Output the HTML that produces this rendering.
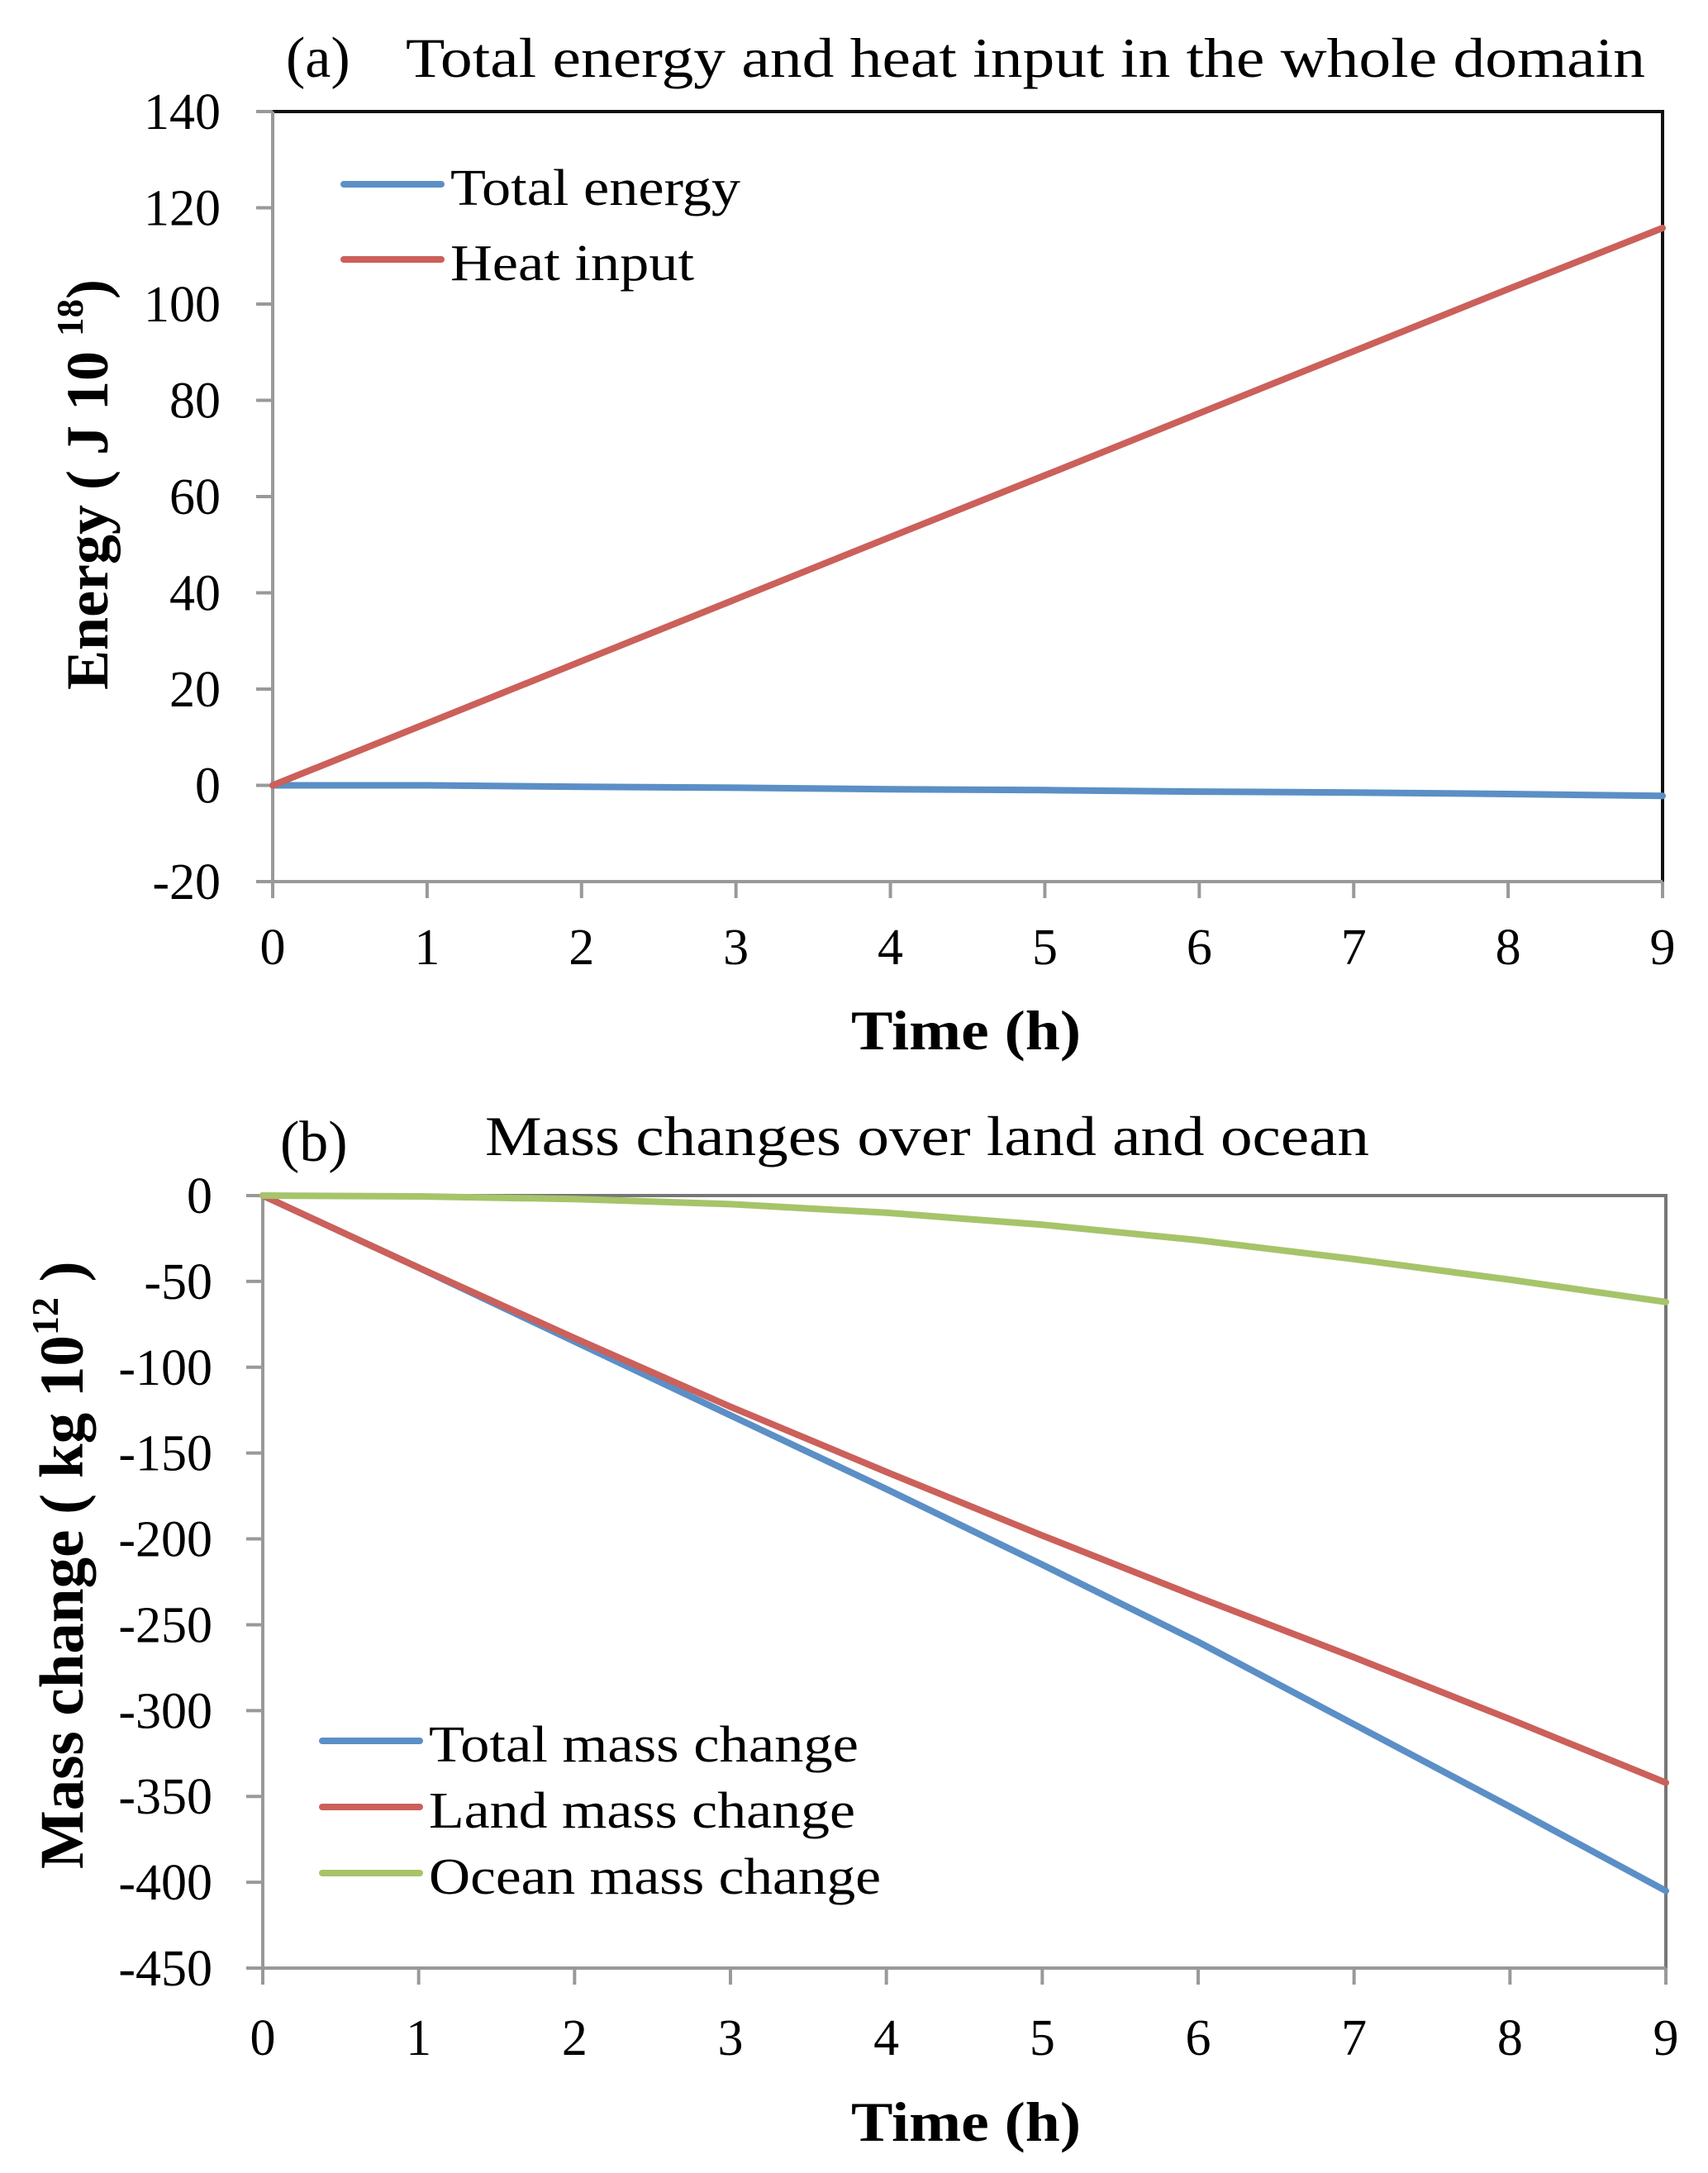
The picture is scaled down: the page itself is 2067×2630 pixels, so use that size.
<!DOCTYPE html>
<html><head><meta charset="utf-8"><style>
html,body{margin:0;padding:0;background:#fff;}
svg{display:block;font-family:"Liberation Serif",serif;}
</style></head><body>
<svg id="fig" width="2067" height="2630" viewBox="0 0 2067 2630" xmlns="http://www.w3.org/2000/svg">
<g id="chartA"></g>
<g id="chartB"></g>
</svg>
<script>
const hours = [0,1,2,3,4,5,6,7,8,9];
const totalEnergy = [0,0,-0.3,-0.5,-0.8,-1.0,-1.3,-1.5,-1.8,-2.2];
const heatInput = [0,12.9,25.8,38.7,51.6,64.4,77.3,90.2,103.1,115.8];
const energyTicks = [-20,0,20,40,60,80,100,120,140];
const totalMass = [0,-42,-85,-128,-171,-215,-260,-308,-356,-405];
const landMass = [0,-42,-83,-123,-161,-198,-234,-269,-305,-342];
const oceanMass = [0,-0.5,-2,-5,-10,-17,-26,-37,-49,-62];
const massTicks = [-450,-400,-350,-300,-250,-200,-150,-100,-50,0];
const xTicks = [0,1,2,3,4,5,6,7,8,9];

const NS="http://www.w3.org/2000/svg";
function mk(parent,tag,attrs,text){
  const e=document.createElementNS(NS,tag);
  for(const k in attrs) e.setAttribute(k,attrs[k]);
  if(text!==undefined) e.textContent=text;
  parent.appendChild(e); return e;
}
const BLUE="#5b8fc6", RED="#cc605a", GREEN="#a6c46a", GRID="#999";

function drawChart(g,cfg){
  const xs=v=>cfg.x0+(v-0)/9*(cfg.x1-cfg.x0);
  const ys=v=>cfg.y1-(v-cfg.ymin)/(cfg.ymax-cfg.ymin)*(cfg.y1-cfg.y0);
  const fr=mk(g,'path',{d:`M${cfg.x0} ${cfg.y0} H${cfg.x1} V${cfg.y1}`,fill:'none',stroke:cfg.frame,'stroke-width':4});
  
  
  const ya=mk(g,'line',{x1:cfg.x0,y1:cfg.y0,x2:cfg.x0,y2:cfg.y1+20,stroke:GRID,'stroke-width':4});
  
  
  const xa=mk(g,'line',{x1:cfg.x0-20,y1:cfg.y1,x2:cfg.x1,y2:cfg.y1,stroke:GRID,'stroke-width':4});
  
  
  cfg.yt.forEach(v=>{
    const y=ys(v);
    mk(g,'line',{x1:cfg.x0-20,y1:y,x2:cfg.x0,y2:y,stroke:GRID,'stroke-width':4});
    const t=mk(g,'text',{x:cfg.ylabX,y:y+21,'text-anchor':'end','font-size':62},String(v));
    
    
  });
  xTicks.forEach(v=>{
    const x=xs(v);
    mk(g,'line',{x1:x,y1:cfg.y1,x2:x,y2:cfg.y1+20,stroke:GRID,'stroke-width':4});
    const t=mk(g,'text',{x:x,y:cfg.xlabY,'text-anchor':'middle','font-size':62},String(v));
    
    
  });
  cfg.series.forEach(s=>{
    const d=hours.map((h,i)=>(i?'L':'M')+xs(h).toFixed(1)+' '+ys(s.vals[i]).toFixed(1)).join(' ');
    const p=mk(g,'path',{d:d,fill:'none',stroke:s.color,'stroke-width':8,'stroke-linejoin':'round','stroke-linecap':'round'});
    
    
  });
  cfg.series.forEach((s,i)=>{
    const ly=cfg.legY[i];
    const l=mk(g,'line',{x1:cfg.legX,y1:ly,x2:cfg.legX+118,y2:ly,stroke:s.color,'stroke-width':8,'stroke-linecap':'round'});
    
    
    const t=mk(g,'text',{x:cfg.legX+129,y:ly+25,'font-size':62,textLength:s.lw,lengthAdjust:'spacingAndGlyphs'},s.label);
    
    
  });
}

const gA=document.getElementById('chartA');
drawChart(gA,{x0:330,x1:2012,y0:135,y1:1067,ymin:-20,ymax:140,yt:energyTicks,ylabX:267,xlabY:1167,frame:'#111',
  legX:416,legY:[223,314],
  series:[{name:'total-energy',label:'Total energy',vals:totalEnergy,color:BLUE,lw:351},
          {name:'heat-input',label:'Heat input',vals:heatInput,color:RED,lw:295}]});
const gB=document.getElementById('chartB');
drawChart(gB,{x0:318,x1:2016,y0:1447,y1:2382,ymin:-450,ymax:0,yt:massTicks,ylabX:257,xlabY:2487,frame:'#777',
  legX:390,legY:[2107,2187,2267],
  series:[{name:'total-mass',label:'Total mass change',vals:totalMass,color:BLUE,lw:520},
          {name:'land-mass',label:'Land mass change',vals:landMass,color:RED,lw:516},
          {name:'ocean-mass',label:'Ocean mass change',vals:oceanMass,color:GREEN,lw:547}]});

const svg=document.getElementById('fig');
let t;
t=mk(svg,'text',{x:346,y:93,'font-size':70},'(a)');


t=mk(svg,'text',{x:491,y:93,'font-size':68,textLength:1500,lengthAdjust:'spacingAndGlyphs'},'Total energy and heat input in the whole domain');


t=mk(svg,'text',{x:339,y:1405,'font-size':70},'(b)');


t=mk(svg,'text',{x:587,y:1398,'font-size':68,textLength:1070,lengthAdjust:'spacingAndGlyphs'},'Mass changes over land and ocean');


t=mk(svg,'text',{x:1030,y:1270,'font-size':68,'font-weight':'bold',textLength:278,lengthAdjust:'spacingAndGlyphs'},'Time (h)');


t=mk(svg,'text',{x:1030,y:2591,'font-size':68,'font-weight':'bold',textLength:278,lengthAdjust:'spacingAndGlyphs'},'Time (h)');


t=mk(svg,'text',{x:0,y:0,'font-size':72,'font-weight':'bold',transform:'translate(130,835) rotate(-90)'});


t.innerHTML='Energy ( J 10 <tspan dy="-30" font-size="45">18</tspan><tspan dy="30">)</tspan>';
t=mk(svg,'text',{x:0,y:0,'font-size':75,'font-weight':'bold',transform:'translate(100,2262) rotate(-90)'});


t.innerHTML='Mass change ( kg 10<tspan dy="-30" font-size="46">12</tspan><tspan dy="30"> )</tspan>';
</script>
</body></html>
